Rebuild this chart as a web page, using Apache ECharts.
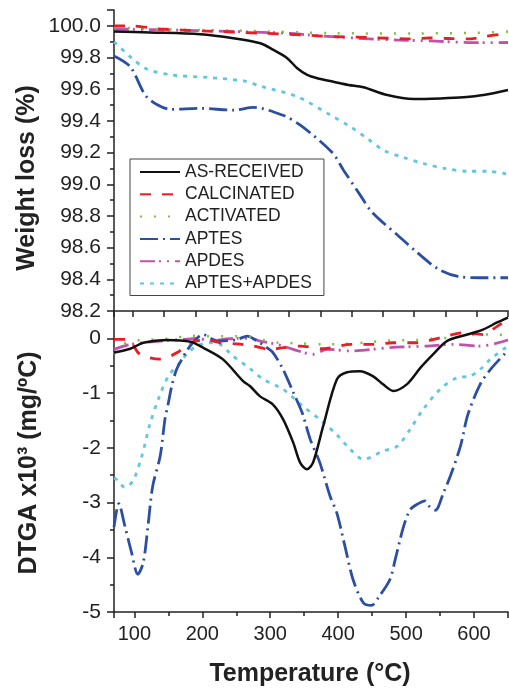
<!DOCTYPE html>
<html><head><meta charset="utf-8">
<script src="https://cdn.jsdelivr.net/npm/echarts@6/dist/echarts.min.js"></script>
<style>html,body{margin:0;padding:0;background:#fff}#c{width:509px;height:697px}</style>
</head><body><div id="c"></div>
<script>
const seriesNames = ['AS-RECEIVED','CALCINATED','ACTIVATED','APTES','APDES','APTES+APDES'];

// TGA (top panel): [temperature °C, weight %]
const tgaAsReceived = [[70,99.964],[128,99.958],[208,99.947],[261,99.922],[304,99.89],[325,99.848],[347,99.796],[363,99.732],[379,99.69],[395,99.669],[421,99.647],[445,99.627],[469,99.612],[507,99.563],[549,99.538],[592,99.542],[629,99.549],[661,99.563],[700,99.595]];
const tgaCalcinated = [[70,100.0],[96,100.0],[144,99.98],[213,99.968],[304,99.954],[368,99.943],[421,99.932],[480,99.926],[544,99.918],[576,99.924],[608,99.92],[640,99.918],[661,99.932],[693,99.949],[700,99.95]];
const tgaActivated = [[70,99.99],[150,99.978],[270,99.97],[420,99.954],[550,99.952],[650,99.956],[700,99.964]];
const tgaAptes = [[70,99.81],[96,99.742],[120,99.563],[140,99.50],[160,99.473],[208,99.479],[261,99.468],[293,99.485],[339,99.437],[368,99.373],[419,99.2],[437,99.089],[464,98.93],[480,98.835],[501,98.755],[524,98.677],[556,98.565],[588,98.466],[620,98.418],[656,98.41],[700,98.41]];
const tgaApdes = [[70,99.98],[180,99.972],[352,99.953],[379,99.943],[459,99.922],[524,99.91],[576,99.905],[645,99.894],[700,99.895]];
const tgaAptesApdes = [[70,99.9],[99,99.795],[123,99.726],[163,99.69],[224,99.673],[277,99.652],[307,99.616],[363,99.553],[416,99.437],[448,99.363],[475,99.289],[501,99.215],[533,99.169],[565,99.131],[600,99.099],[636,99.082],[668,99.082],[700,99.063]];

// DTGA (bottom panel): [temperature °C, DTGA x10^3 mg/°C]
const dtgaAsReceived = [[70,-0.26],[94,-0.19],[113,-0.08],[148,-0.03],[182,-0.06],[201,-0.17],[230,-0.38],[260,-0.78],[270,-0.87],[285,-1.06],[304,-1.21],[319,-1.48],[334,-1.91],[344,-2.27],[354,-2.39],[363,-2.27],[378,-1.6],[398,-0.75],[413,-0.62],[432,-0.6],[451,-0.69],[466,-0.84],[481,-0.96],[501,-0.84],[521,-0.54],[540,-0.29],[560,-0.05],[590,0.07],[613,0.16],[634,0.29],[650,0.38]];
const dtgaCalcinated = [[70,-0.02],[90,-0.02],[108,-0.29],[138,-0.38],[163,-0.26],[182,-0.08],[207,-0.03],[226,-0.08],[251,-0.1],[275,-0.14],[300,-0.2],[319,-0.17],[344,-0.14],[378,-0.19],[418,-0.11],[451,-0.11],[481,-0.08],[516,-0.08],[550,0.01],[584,0.1],[613,0.07],[634,0.22],[650,0.35]];
const dtgaActivated = [[70,-0.28],[91,-0.06],[112,-0.03],[157,0.0],[182,0.05],[204,0.04],[251,0.04],[273,0.03],[295,-0.05],[314,-0.08],[341,-0.09],[384,-0.11],[410,-0.1],[447,-0.07],[472,-0.04],[516,-0.03],[540,0.0],[565,0.01],[609,0.07],[631,0.07],[650,0.05]];
const dtgaAptes = [[70,-3.45],[77,-3.02],[86,-3.43],[96,-3.92],[105,-4.31],[113,-4.1],[120,-3.43],[127,-2.7],[138,-2.15],[145,-1.48],[150,-1.18],[155,-0.87],[162,-0.57],[170,-0.38],[177,-0.23],[186,-0.08],[201,0.07],[216,-0.02],[226,-0.05],[251,-0.02],[266,0.04],[281,-0.05],[295,-0.17],[304,-0.26],[319,-0.57],[334,-0.99],[347,-1.36],[359,-1.85],[373,-2.27],[388,-2.88],[398,-3.19],[410,-3.8],[422,-4.41],[437,-4.83],[449,-4.88],[460,-4.72],[476,-4.41],[484,-4.04],[496,-3.45],[506,-3.13],[518,-3.02],[528,-2.97],[535,-3.08],[543,-3.14],[555,-2.82],[565,-2.52],[580,-1.97],[591,-1.39],[609,-0.84],[624,-0.57],[650,-0.22]];
const dtgaApdes = [[70,-0.2],[94,-0.11],[138,-0.05],[172,-0.02],[192,0.0],[211,-0.04],[251,0.0],[270,0.0],[285,-0.05],[310,-0.11],[334,-0.2],[363,-0.29],[384,-0.2],[418,-0.23],[476,-0.17],[531,-0.14],[569,-0.11],[609,-0.14],[650,-0.03]];
const dtgaAptesApdes = [[70,-2.55],[74,-2.58],[86,-2.72],[98,-2.6],[111,-2.15],[123,-1.56],[135,-1.12],[150,-0.69],[167,-0.44],[179,-0.26],[192,-0.14],[211,-0.08],[226,-0.11],[245,-0.32],[270,-0.55],[290,-0.75],[319,-0.93],[348,-1.24],[373,-1.48],[398,-1.76],[418,-2.03],[437,-2.21],[466,-2.06],[487,-1.97],[506,-1.66],[525,-1.3],[550,-0.93],[575,-0.72],[594,-0.69],[609,-0.57],[624,-0.38],[650,-0.14]];

const tgaData = [tgaAsReceived, tgaCalcinated, tgaActivated, tgaAptes, tgaApdes, tgaAptesApdes];
const dtgaData = [dtgaAsReceived, dtgaCalcinated, dtgaActivated, dtgaAptes, dtgaApdes, dtgaAptesApdes];

const colors = ['#111111','#ed1c24','#7cc142','#2c4fa3','#c051ad','#5ec8dd'];
const dashes = ['solid',[11,11],[2,12],[18,5,2,5],[15,4,2,6,2,6],[4,6]];
const widths = [2.5,2.8,2.5,2.8,2.8,2.8];
const FF = '"Liberation Sans", Arial, sans-serif';
const AX = {color:'#222', width:1.5};

const chart = echarts.init(document.getElementById('c'), null, {renderer:'canvas'});
const series = [];
seriesNames.forEach((n,i)=>{
  [tgaData[i], dtgaData[i]].forEach((d,k)=>{
    series.push({
      name:n, type:'line', xAxisIndex:k, yAxisIndex:k, data:d,
      smooth:0.3, symbol:'none', showSymbol:false,
      lineStyle:{color:colors[i], width:widths[i], type:dashes[i]},
      itemStyle:{color:colors[i]}, z: 10-i
    });
  });
});

chart.setOption({
  animation:false,
  backgroundColor:'#fff',
  textStyle:{fontFamily:FF},
  grid:[
    {left:114, right:1, top:10, height:301},
    {left:114, right:1, top:311, height:301}
  ],
  legend:{
    orient:'vertical', left:130, top:159, itemWidth:40, itemHeight:14, itemGap:4.3,
    padding:[4,12,3,9], borderColor:'#444', borderWidth:1, backgroundColor:'#fff',
    itemStyle:{opacity:0, borderWidth:0},
    textStyle:{fontSize:17.5, color:'#222', fontFamily:FF},
    data:seriesNames
  },
  xAxis:[
    {gridIndex:0, type:'value', min:70, max:700, minInterval:50, maxInterval:50,
     axisLine:{show:true, onZero:false, lineStyle:AX},
     axisTick:{show:true, length:6, lineStyle:AX},
     axisLabel:{show:false}, splitLine:{show:false}},
    {gridIndex:1, type:'value', min:70, max:650, minInterval:100, maxInterval:100,
     axisLine:{show:true, onZero:false, lineStyle:AX},
     axisTick:{show:true, length:6, lineStyle:AX},
     minorTick:{show:true, splitNumber:2, length:4, lineStyle:AX},
     axisLabel:{fontSize:20, color:'#222', margin:12, showMinLabel:false, showMaxLabel:false,
       formatter:v=> (v%100===0 ? String(v) : '')},
     splitLine:{show:false}}
  ],
  yAxis:[
    {gridIndex:0, type:'value', min:98.2, max:100.1, interval:0.2,
     axisLine:{show:true, onZero:false, lineStyle:AX},
     axisTick:{show:true, length:7, lineStyle:AX},
     minorTick:{show:true, splitNumber:2, length:4, lineStyle:AX},
     axisLabel:{fontSize:21, color:'#222', margin:13, showMaxLabel:false, formatter:v=>v.toFixed(1)},
     splitLine:{show:false}},
    {gridIndex:1, type:'value', min:-5, max:0.5, interval:1,
     axisLine:{show:true, onZero:false, lineStyle:AX},
     axisTick:{show:true, length:7, lineStyle:AX},
     minorTick:{show:true, splitNumber:2, length:4, lineStyle:AX},
     axisLabel:{fontSize:21, color:'#222', margin:13, showMaxLabel:false},
     splitLine:{show:false}}
  ],
  graphic:[
    {type:'text', x:27, y:178, rotation:Math.PI/2,
     style:{text:'Weight loss (%)', font:'bold 25px '+FF, fill:'#222', textAlign:'center', textVerticalAlign:'middle'}},
    {type:'text', x:29, y:463, rotation:Math.PI/2,
     style:{text:'DTGA x10³ (mg/ºC)', font:'bold 25px '+FF, fill:'#222', textAlign:'center', textVerticalAlign:'middle'}},
    {type:'text', x:310, y:674,
     style:{text:'Temperature (°C)', font:'bold 25px '+FF, fill:'#222', textAlign:'center', textVerticalAlign:'middle'}}
  ],
  series:series
});
</script></body></html>
